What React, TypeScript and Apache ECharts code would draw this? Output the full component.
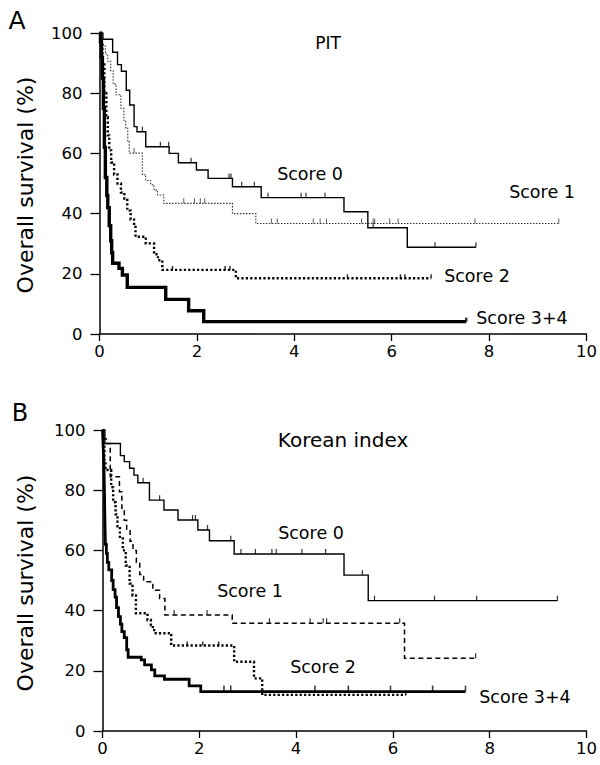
import React, { useEffect, useRef } from "react";
import * as echarts from "echarts";

// ---------- Panel A: PIT ----------
const pit0Time = [0, 0.07, 0.27, 0.37, 0.45, 0.55, 0.62, 0.71, 0.77, 0.95, 1.43, 1.62, 1.99, 2.23, 2.73, 3.32, 5.02, 5.51, 6.32];
const pit0Surv = [100, 97.9, 93.6, 89.5, 87.3, 81, 76.1, 68.9, 67.2, 62.2, 60, 56.9, 54.5, 51.7, 48.9, 45.3, 40.6, 35.3, 28.8];
const pit0End = 7.73;
const pit0Cens = [0.88, 1.25, 1.42, 1.88, 2.66, 2.7, 2.92, 3.18, 3.46, 4.14, 4.24, 4.63, 5.62, 6.89, 7.73];

const pit1Time = [0, 0.05, 0.12, 0.17, 0.23, 0.28, 0.34, 0.44, 0.5, 0.54, 0.58, 0.61, 0.88, 0.95, 1.05, 1.12, 1.19, 1.32, 2.73, 3.21];
const pit1Surv = [100, 96, 93, 90.6, 87.5, 83, 79.5, 75, 71, 68.4, 64, 60.1, 52.9, 51, 49.6, 47.8, 46.2, 43.4, 40, 36.7];
const pit1End = 9.43;
const pit1Cens = [0.71, 1.73, 1.95, 2.07, 2.16, 3.53, 3.65, 4.39, 4.53, 4.66, 5.38, 5.62, 5.65, 5.96, 6.13, 7.71, 9.43];

const pit2Time = [0, 0.03, 0.06, 0.1, 0.14, 0.17, 0.2, 0.24, 0.3, 0.37, 0.44, 0.51, 0.57, 0.64, 0.71, 0.74, 0.95, 1.12, 1.2, 1.29, 2.8];
const pit2Surv = [100, 96, 90, 80, 72, 66, 61, 57, 53, 50, 47, 45, 41, 38, 36, 32.3, 30.1, 26.5, 24.5, 21.3, 18.5];
const pit2End = 6.81;
const pit2Cens = [1.5, 2.58, 2.68, 5.09, 6.18, 6.27, 6.81];

const pit34Time = [0, 0.02, 0.04, 0.06, 0.08, 0.1, 0.12, 0.15, 0.17, 0.2, 0.23, 0.25, 0.27, 0.4, 0.47, 0.57, 1.36, 1.83, 2.14];
const pit34Surv = [100, 97, 92, 85, 75, 62, 52, 46, 42, 36, 31, 27, 23.5, 21.8, 19.6, 15.5, 11.5, 7.7, 4.1];
const pit34End = 7.53;
const pit34Cens = [7.53];

// ---------- Panel B: Korean index ----------
const kor0Time = [0, 0.05, 0.37, 0.45, 0.56, 0.65, 0.73, 0.97, 1.27, 1.56, 1.97, 2.21, 2.72, 4.99, 5.49];
const kor0Surv = [100, 95.5, 91.5, 89.5, 87.3, 85, 82.5, 76.7, 73.4, 70.1, 66.8, 63.2, 58.8, 51.8, 43.3];
const kor0End = 9.4;
const kor0Cens = [0.84, 1.18, 1.86, 1.92, 2.17, 2.65, 2.86, 3.16, 3.5, 3.59, 4.12, 4.61, 5.37, 5.62, 6.86, 7.73, 9.4];

const kor1Time = [0, 0.03, 0.08, 0.16, 0.35, 0.4, 0.45, 0.5, 0.57, 0.63, 0.7, 0.77, 0.85, 1.04, 1.18, 1.29, 2.68, 6.24];
const kor1Surv = [100, 97, 95.5, 84.5, 79.5, 74, 70, 67, 63, 60, 56, 52, 49.6, 46.8, 44, 38.5, 35.8, 24.2];
const kor1End = 7.71;
const kor1Cens = [1.48, 2.16, 3.45, 4.29, 4.56, 4.63, 6.14, 7.71];

const kor2Time = [0, 0.02, 0.04, 0.06, 0.18, 0.22, 0.27, 0.31, 0.36, 0.42, 0.48, 0.56, 0.62, 0.69, 0.93, 1.0, 1.04, 1.1, 1.42, 2.72, 3.13, 3.3];
const kor2Surv = [100, 95, 90, 86.7, 81, 76, 72, 68, 64, 60, 55, 49, 45, 39.1, 36.9, 35.2, 33.5, 32.5, 28.4, 23, 17.5, 12];
const kor2End = 6.27;
const kor2Cens = [1.75, 2.07, 2.4, 6.27];

const kor34Time = [0, 0.01, 0.02, 0.03, 0.04, 0.05, 0.06, 0.08, 0.1, 0.13, 0.19, 0.22, 0.26, 0.29, 0.33, 0.37, 0.4, 0.45, 0.5, 0.53, 0.8, 0.87, 1.01, 1.08, 1.28, 1.79, 2.03];
const kor34Surv = [100, 96, 92, 88, 80, 70, 62, 59, 56, 53.5, 50, 47, 44.5, 41, 38, 35.5, 33, 31, 27, 24.5, 23.6, 22, 20.3, 18.3, 17.2, 15, 13.1];
const kor34End = 7.5;
const kor34Cens = [2.51, 2.65, 4.39, 5.08, 5.95, 6.82, 7.5];

const xTickLabels = ["0", "2", "4", "6", "8", "10"];
const yTickLabels = ["0", "20", "40", "60", "80", "100"];
const scoreNames = ["Score 0", "Score 1", "Score 2", "Score 3+4"];

const FONT = "DejaVu Sans";

function kmData(t: number[], s: number[], end: number) {
  const d = t.map((v, i) => [v, s[i]]);
  d.push([end, s[s.length - 1]]);
  return d;
}
function survAt(t: number[], s: number[], x: number) {
  let v = s[0];
  for (let i = 0; i < t.length; i++) if (t[i] <= x) v = s[i];
  return v;
}
function censData(t: number[], s: number[], c: number[]) {
  return c.map((x) => [x, survAt(t, s, x)]);
}

function lineSeries(idx: number, data: number[][], width: number, type: any, color: string, z = 3) {
  return {
    type: "line",
    xAxisIndex: idx,
    yAxisIndex: idx,
    data,
    step: "end",
    symbol: "none",
    showSymbol: false,
    silent: true,
    z,
    lineStyle: { color, width, type, cap: "butt", join: "miter" },
  };
}
function censSeries(idx: number, data: number[][], h: number, w: number, color: string) {
  return {
    type: "scatter",
    xAxisIndex: idx,
    yAxisIndex: idx,
    data,
    symbol: "rect",
    symbolSize: [w, h],
    symbolOffset: [0, -h / 2],
    silent: true,
    z: 4,
    itemStyle: { color },
  };
}

function xAxis(gi: number) {
  return {
    type: "value",
    gridIndex: gi,
    min: 0,
    max: 10,
    interval: 2,
    axisLine: { show: true, onZero: false, lineStyle: { color: "#000", width: 1.5 } },
    axisTick: { show: true, length: 7, inside: false, lineStyle: { color: "#000", width: 1.3 } },
    axisLabel: {
      margin: 9,
      fontSize: 16.5,
      fontFamily: FONT,
      color: "#000",
      formatter: (v: number) => xTickLabels[Math.round(v / 2)] ?? String(v),
    },
    splitLine: { show: false },
  };
}
function yAxis(gi: number) {
  return {
    type: "value",
    gridIndex: gi,
    min: 0,
    max: 100,
    interval: 20,
    axisLine: { show: true, lineStyle: { color: "#000", width: 1.5 } },
    axisTick: { show: true, length: 9, lineStyle: { color: "#000", width: 1.3 } },
    axisLabel: {
      margin: 17,
      fontSize: 16.5,
      fontFamily: FONT,
      color: "#000",
      formatter: (v: number) => yTickLabels[Math.round(v / 20)] ?? String(v),
    },
    splitLine: { show: false },
  };
}

function txt(text: string, x: number, y: number, size: number, rotation = 0) {
  return {
    type: "text",
    x,
    y,
    rotation,
    silent: true,
    style: {
      text,
      fill: "#000",
      font: `${size}px "${FONT}"`,
      textAlign: "center",
      textVerticalAlign: "middle",
    },
  };
}

export default function App() {
  const ref = useRef<HTMLDivElement>(null);
  useEffect(() => {
    if (!ref.current) return;
    const chart = echarts.init(ref.current, undefined, { renderer: "svg" });
    const option: any = {
      animation: false,
      backgroundColor: "#fff",
      grid: [
        { left: 99.5, top: 33, width: 490.5, height: 301 },
        { left: 102.5, top: 430, width: 487.5, height: 301 },
      ],
      xAxis: [xAxis(0), xAxis(1)],
      yAxis: [yAxis(0), yAxis(1)],
      series: [
        lineSeries(0, kmData(pit1Time, pit1Surv, pit1End), 1.1, [1.5, 1.5], "#333"),
        lineSeries(0, kmData(pit0Time, pit0Surv, pit0End), 1.4, "solid", "#000"),
        lineSeries(0, kmData(pit2Time, pit2Surv, pit2End), 2.4, [2.2, 2.2], "#000"),
        lineSeries(0, kmData(pit34Time, pit34Surv, pit34End), 3.4, "solid", "#000"),
        censSeries(0, censData(pit0Time, pit0Surv, pit0Cens), 5, 1.2, "#000"),
        censSeries(0, censData(pit1Time, pit1Surv, pit1Cens), 5, 1, "#333"),
        censSeries(0, censData(pit2Time, pit2Surv, pit2Cens), 4, 1.5, "#000"),
        censSeries(0, censData(pit34Time, pit34Surv, pit34Cens), 4, 2.5, "#000"),

        lineSeries(1, kmData(kor0Time, kor0Surv, kor0End), 1.4, "solid", "#000"),
        lineSeries(1, kmData(kor1Time, kor1Surv, kor1End), 1.5, [5, 3.5], "#000"),
        lineSeries(1, kmData(kor2Time, kor2Surv, kor2End), 2.4, [2.2, 2.2], "#000"),
        lineSeries(1, kmData(kor34Time, kor34Surv, kor34End), 2.8, "solid", "#000"),
        censSeries(1, censData(kor0Time, kor0Surv, kor0Cens), 5, 1.2, "#000"),
        censSeries(1, censData(kor1Time, kor1Surv, kor1Cens), 5, 1.2, "#000"),
        censSeries(1, censData(kor2Time, kor2Surv, kor2Cens), 4, 1.5, "#000"),
        censSeries(1, censData(kor34Time, kor34Surv, kor34Cens), 6, 1.5, "#000"),
      ],
      graphic: [
        txt("A", 17, 20, 25),
        txt("B", 20, 413, 24),
        txt("Overall survival (%)", 25, 185, 22, Math.PI / 2),
        txt("Overall survival (%)", 25, 583, 22, Math.PI / 2),
        txt("PIT", 328, 43, 17),
        txt("Korean index", 343, 440, 20),
        txt(scoreNames[0], 310, 174, 17.5),
        txt(scoreNames[1], 542, 192, 17.5),
        txt(scoreNames[2], 477, 276, 17.5),
        txt(scoreNames[3], 522, 318, 17.5),
        txt(scoreNames[0], 311, 533, 17.5),
        txt(scoreNames[1], 250, 591, 17.5),
        txt(scoreNames[2], 323, 667, 17.5),
        txt(scoreNames[3], 525, 697, 17.5),
      ],
    };
    chart.setOption(option);
    return () => chart.dispose();
  }, []);
  return (
    <div
      ref={ref}
      style={{ position: "absolute", left: 0, top: 0, width: 600, height: 765, background: "#fff" }}
    />
  );
}
